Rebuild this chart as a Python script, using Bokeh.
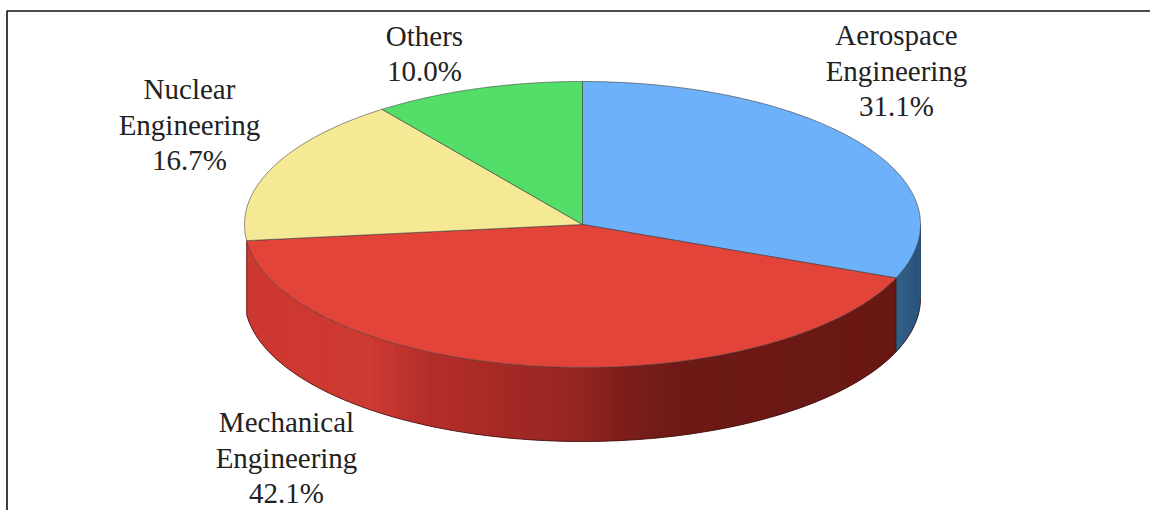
import numpy as np
from bokeh.core.properties import value
from bokeh.embed import file_html
from bokeh.models import ColumnDataSource, Range1d
from bokeh.plotting import figure
from bokeh.resources import INLINE

# Share of each field, clockwise from twelve o'clock
categories = ["Aerospace\nEngineering", "Mechanical\nEngineering", "Nuclear\nEngineering", "Others"]
shares = [31.1, 42.1, 16.7, 10.0]
top_colors = ["#6db1fb", "#e2443a", "#f6e995", "#53de69"]
label_centres = [(896, 70), (286, 457), (189, 124), (424, 53)]

W, H = 1150, 510
CX, CY, RX, RY, DEPTH = 582, 224, 338, 143, 74

p = figure(width=W, height=H, output_backend="svg", toolbar_location=None,
           x_range=Range1d(0, W), y_range=Range1d(H, 0),
           min_border=0, outline_line_color=None)
p.axis.visible = False
p.grid.visible = False

# Clockwise angle from the top of the ellipse to each slice boundary
edges = np.concatenate([[0], np.cumsum(shares)]) / 100 * 2 * np.pi
edges[-1] = 2 * np.pi


def ex(a):
    return CX + RX * np.sin(a)


def ey(a):
    return CY - RY * np.cos(a)


def lerp(stops, t):
    pos = [s[0] for s in stops]
    return "#%02x%02x%02x" % tuple(
        int(round(np.interp(t, pos, [s[1][c] for s in stops]))) for c in range(3))


# Shading along the rim, keyed by horizontal position
red_rim = [(246, (205, 56, 48)), (370, (205, 58, 50)), (420, (182, 47, 43)), (500, (165, 42, 38)),
           (580, (148, 37, 33)), (620, (126, 30, 27)), (680, (109, 26, 22)), (897, (106, 24, 20))]
blue_rim = [(897, (50, 96, 136)), (921, (40, 82, 122))]


def rim(a0, a1, stops, steps):
    """Overlapping vertical strips forming the visible side wall between two angles."""
    a = np.linspace(a0, a1, steps + 1)
    xs, ys, colors = [], [], []
    for i in range(steps):
        u, v, w = a[i], a[i + 1], a[min(i + 2, steps)]
        # each strip runs under the next one, so no seam shows between them
        xs.append([ex(u), ex(v), ex(w), ex(w), ex(v), ex(u)])
        ys.append([ey(u), ey(v), ey(w), ey(w) + DEPTH, ey(v) + DEPTH, ey(u) + DEPTH])
        colors.append(lerp(stops, ex((u + v) / 2)))
    p.patches(xs, ys, fill_color=colors, line_color=None)
    p.line(ex(a), ey(a) + DEPTH, line_color="#3a1010", line_width=0.8)


rim(np.pi / 2, edges[1], blue_rim, 20)
rim(edges[1], edges[2], red_rim, 110)
p.line([ex(edges[1])] * 2, [ey(edges[1]), ey(edges[1]) + DEPTH], line_color="#2a1a1a", line_width=0.8)
p.line([ex(np.pi / 2)] * 2, [CY, CY + DEPTH], line_color="#1d3c5a", line_width=0.8)
p.line([ex(edges[2])] * 2, [ey(edges[2]), ey(edges[2]) + DEPTH], line_color="#5a1a16", line_width=0.8)

# Top face of the disc
for a0, a1, color in zip(edges[:-1], edges[1:], top_colors):
    a = np.linspace(a0, a1, 200)
    p.patch(np.r_[CX, ex(a)], np.r_[CY, ey(a)], fill_color=color,
            line_color="#3c3c3c", line_width=0.7, line_alpha=0.85)

# Labels: name lines followed by the percentage
font = value("Liberation Serif")
tx, ty, tt = [], [], []
for name, share, (lx, ly) in zip(categories, shares, label_centres):
    lines = name.split("\n") + [f"{share:.1f}%"]
    for i, line in enumerate(lines):
        tx.append(lx)
        ty.append(ly + (i - (len(lines) - 1) / 2) * 35.8)
        tt.append(line)
p.text(x="x", y="y", text="t", source=ColumnDataSource(dict(x=tx, y=ty, t=tt)),
       text_font=font, text_font_size="29px", text_color="#222222",
       text_align="center", text_baseline="middle")

# Frame along the left and top edges only
p.line([6.5, 6.5, W], [H, 10.5, 10.5], line_color="#111111", line_width=1.6)

open("out.html", "w").write(file_html(p, INLINE))
